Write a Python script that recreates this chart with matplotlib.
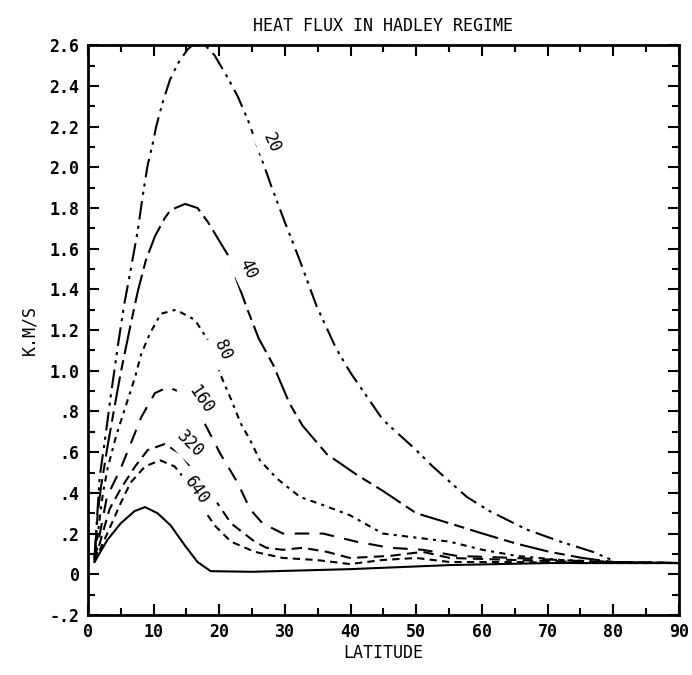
import matplotlib
matplotlib.use("Agg")
import matplotlib.pyplot as plt
from matplotlib.ticker import MultipleLocator

# ── data (latitude, heat flux K.M/S) ──
lat_20 = [1, 1.8, 2.6, 3.5, 4.6, 5.5, 6.6, 7.6, 8.4, 9.1, 9.9, 10.4, 11.4, 12.5, 13.7, 15.2,
          17.0, 19.3, 21.3, 22.8, 24.4, 25.4, 26.6, 27.9, 30.0, 32.3, 34.8, 37.8, 40.0,
          44.9, 50.0, 52.5, 57.7, 61.2, 66.8, 72.0, 76.9, 80.5, 90]
flux_20 = [0.08, 0.48, 0.66, 0.88, 1.13, 1.32, 1.51, 1.69, 1.87, 2.01, 2.12, 2.20, 2.32, 2.43,
           2.51, 2.58, 2.63, 2.55, 2.44, 2.35, 2.23, 2.14, 2.03, 1.91, 1.73, 1.54, 1.32, 1.11,
           0.99, 0.76, 0.61, 0.53, 0.38, 0.31, 0.22, 0.16, 0.11, 0.06, 0.055]

lat_40 = [1, 1.5, 2.0, 3.0, 4.1, 5.0, 6.4, 7.6, 8.8, 10.2, 11.7, 12.6, 14.8, 16.7, 18.3,
          19.8, 21.3, 22.5, 24.2, 26.0, 28.2, 30.7, 32.7, 36.4, 40.9, 44.9, 50.0, 55.1,
          60.1, 65.3, 70.3, 75.3, 80, 90]
flux_40 = [0.07, 0.30, 0.43, 0.63, 0.83, 0.99, 1.21, 1.39, 1.54, 1.66, 1.75, 1.79, 1.82, 1.80,
           1.73, 1.65, 1.57, 1.46, 1.31, 1.16, 1.03, 0.84, 0.73, 0.59, 0.49, 0.41, 0.30, 0.25,
           0.20, 0.15, 0.11, 0.08, 0.06, 0.055]

lat_80 = [1, 2.3, 3.0, 4.3, 5.6, 7.2, 8.1, 9.4, 11.1, 13.4, 16.3, 18.3, 20.2, 21.8, 23.3,
          24.7, 26.2, 28.8, 32.3, 35.8, 39.9, 44.9, 50.0, 55.1, 60.1, 65.3, 72, 80, 90]
flux_80 = [0.07, 0.40, 0.52, 0.68, 0.81, 0.97, 1.08, 1.18, 1.28, 1.30, 1.25, 1.15, 0.98, 0.86,
           0.74, 0.66, 0.56, 0.47, 0.38, 0.34, 0.29, 0.20, 0.18, 0.16, 0.12, 0.09, 0.07, 0.06,
           0.055]

lat_160 = [1, 2.9, 5.0, 6.5, 8.1, 10.2, 12.2, 15.2, 17.8, 20.2, 22.8, 24.7, 26.6, 29.7,
           35.8, 40.9, 46.0, 51.0, 56.2, 65, 75, 80, 90]
flux_160 = [0.06, 0.38, 0.52, 0.64, 0.77, 0.89, 0.92, 0.88, 0.74, 0.59, 0.45, 0.32, 0.25,
            0.20, 0.20, 0.16, 0.13, 0.12, 0.09, 0.08, 0.065, 0.06, 0.055]

lat_320 = [1, 3.3, 5.0, 7.2, 9.1, 11.7, 14.2, 16.7, 19.3, 21.8, 25.4, 27.2, 29.7, 32.7,
           36.4, 39.9, 46.0, 51.0, 55.1, 65, 75, 80, 90]
flux_320 = [0.06, 0.32, 0.42, 0.53, 0.61, 0.64, 0.59, 0.48, 0.37, 0.25, 0.16, 0.13, 0.12,
            0.13, 0.11, 0.08, 0.09, 0.11, 0.08, 0.07, 0.06, 0.06, 0.055]

lat_640 = [1, 3.5, 5.0, 6.5, 8.7, 11.0, 13.2, 15.2, 17.2, 19.3, 21.8, 25.4, 29.7, 34.8,
           39.9, 44.9, 50.0, 55.1, 65, 75, 90]
flux_640 = [0.06, 0.24, 0.35, 0.45, 0.53, 0.56, 0.53, 0.45, 0.34, 0.24, 0.16, 0.11, 0.08,
            0.07, 0.05, 0.07, 0.08, 0.06, 0.06, 0.055, 0.055]

lat_base = [1, 3.0, 5.0, 7.1, 8.7, 10.6, 12.6, 14.8, 16.7, 18.7, 25, 39.9, 55.1, 70.3, 80, 90]
flux_base = [0.06, 0.17, 0.25, 0.31, 0.33, 0.30, 0.24, 0.14, 0.06, 0.015, 0.012, 0.025,
             0.045, 0.055, 0.055, 0.055]

# inline curve labels: text, latitude, flux, rotation
curve_labels = ["20", "40", "80", "160", "320", "640"]
label_lat = [28.0, 24.4, 20.6, 17.2, 15.6, 16.6]
label_flux = [2.12, 1.50, 1.10, 0.86, 0.64, 0.41]
label_rot = [-65, -65, -65, -55, -45, -55]

y_ticks = [-0.2, 0, 0.2, 0.4, 0.6, 0.8, 1.0, 1.2, 1.4, 1.6, 1.8, 2.0, 2.2, 2.4, 2.6]
y_tick_text = ["-.2", "0", ".2", ".4", ".6", ".8", "1.0", "1.2", "1.4", "1.6", "1.8",
               "2.0", "2.2", "2.4", "2.6"]
x_ticks = [0, 10, 20, 30, 40, 50, 60, 70, 80, 90]

FONT = "DejaVu Sans Mono"

fig = plt.figure(figsize=(6.92, 6.75), dpi=100)
ax = fig.add_axes([0.127, 0.089, 0.854, 0.844])

k = dict(color="black", linewidth=1.5)
ax.plot(lat_20, flux_20, dashes=(9, 3, 1.5, 2.5, 1.5, 3), **k)
ax.plot(lat_40, flux_40, dashes=(14, 3, 5, 3), **k)
ax.plot(lat_80, flux_80, dashes=(3, 2.5, 1.5, 2.5), **k)
ax.plot(lat_160, flux_160, dashes=(7, 5), **k)
ax.plot(lat_320, flux_320, dashes=(5, 3), **k)
ax.plot(lat_640, flux_640, dashes=(3.5, 2.5), **k)
ax.plot(lat_base, flux_base, **k)

for txt, lx, ly, rot in zip(curve_labels, label_lat, label_flux, label_rot):
    ax.text(lx, ly, txt, rotation=rot, ha="center", va="center", fontsize=12,
            family=FONT, backgroundcolor="white")

ax.set_xlim(0, 90)
ax.set_ylim(-0.2, 2.6)
ax.set_xticks(x_ticks)
ax.set_yticks(y_ticks)
ax.set_yticklabels(y_tick_text)
ax.xaxis.set_minor_locator(MultipleLocator(5))
ax.yaxis.set_minor_locator(MultipleLocator(0.1))
ax.tick_params(which="both", direction="in", top=True, right=True, width=1.5)
ax.tick_params(which="major", length=8, labelsize=12, pad=6)
ax.tick_params(which="minor", length=5)
for lab in ax.get_xticklabels() + ax.get_yticklabels():
    lab.set_family(FONT)
    lab.set_fontweight("bold")
for s in ax.spines.values():
    s.set_linewidth(2)

ax.set_title("HEAT FLUX IN HADLEY REGIME", family=FONT, fontsize=12, pad=10)
ax.set_xlabel("LATITUDE", family=FONT, fontsize=12, labelpad=2)
ax.set_ylabel("K.M/S", family=FONT, fontsize=12, labelpad=8)

fig.savefig("out.png", dpi=100)
